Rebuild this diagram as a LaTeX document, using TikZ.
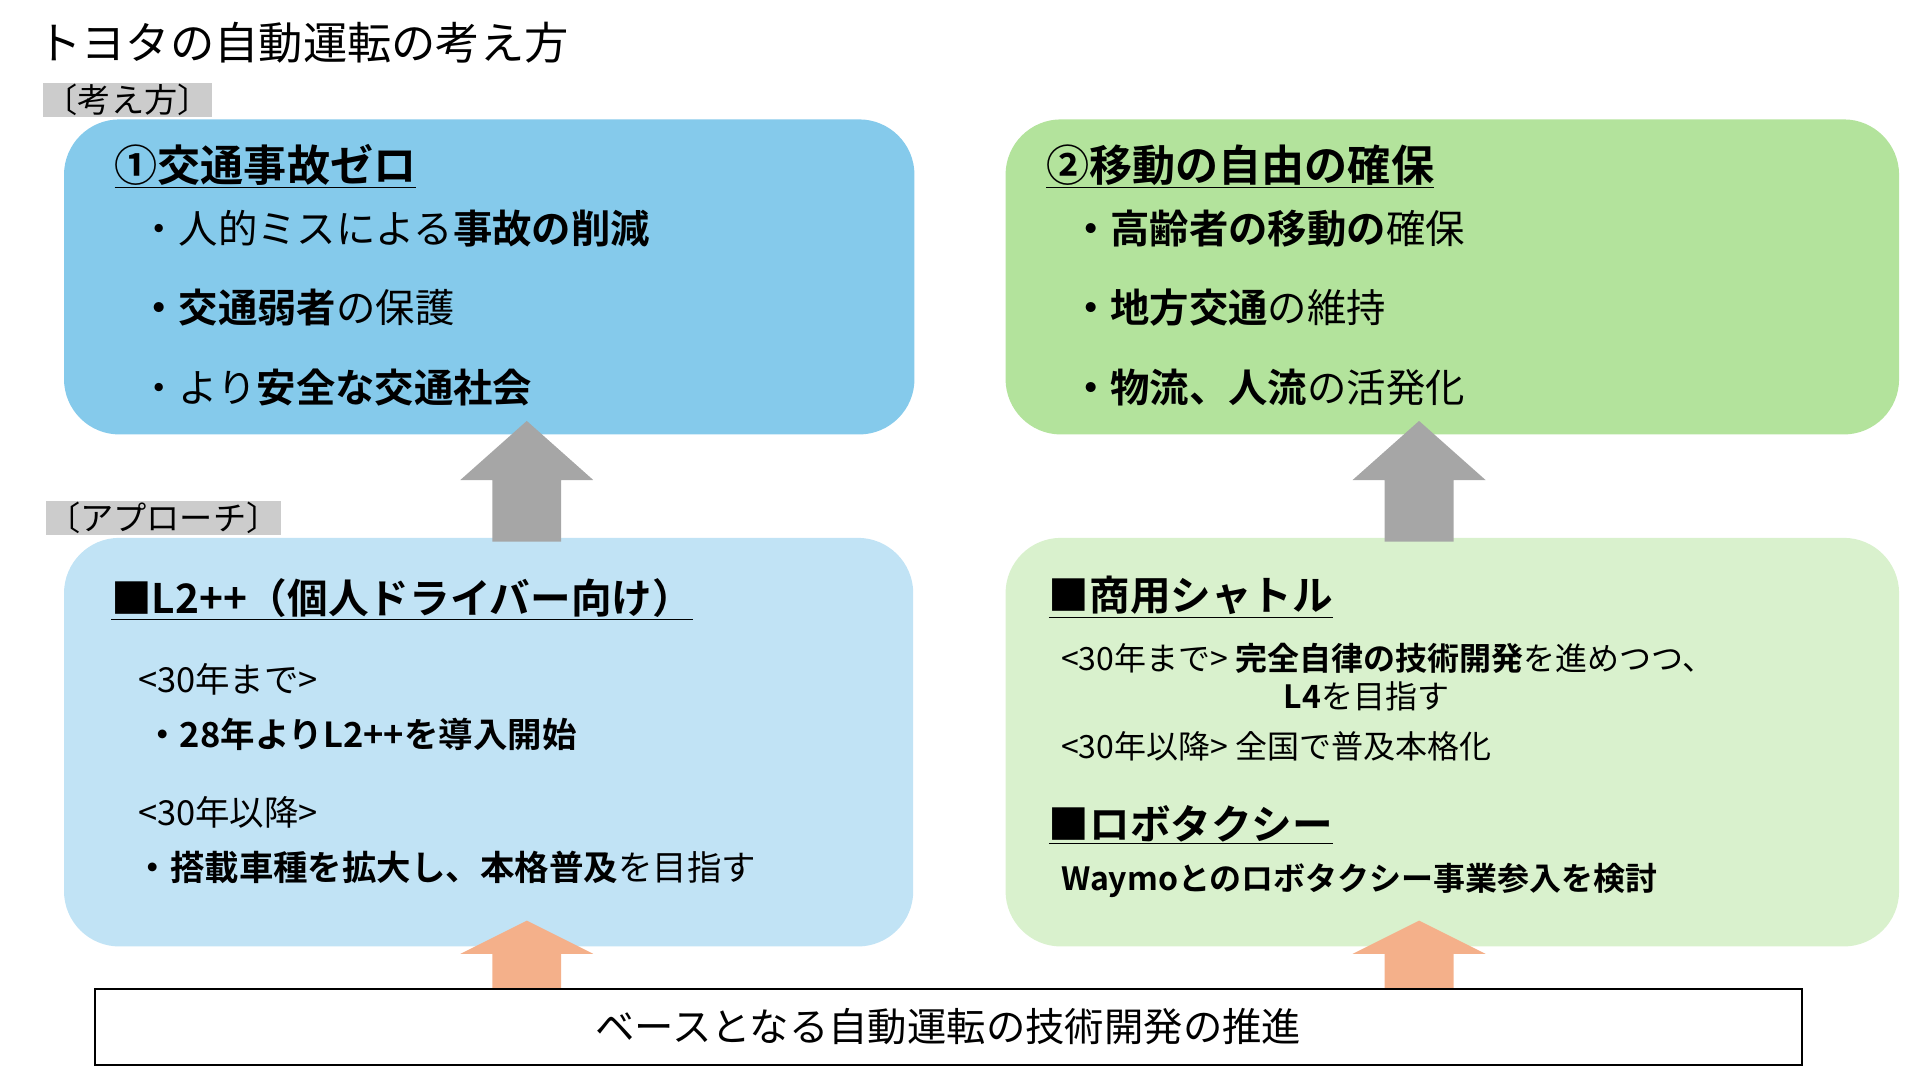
\documentclass[tikz,border=0pt]{standalone}
\usepackage{fontspec}
\setmainfont{Noto Sans CJK JP}[BoldFont={Noto Sans CJK JP Bold}]
\begin{document}
\begin{tikzpicture}[x=1pt,y=-1pt,
  box/.style={rounded corners=45pt},
  txt/.style={anchor=west,inner sep=0pt,font=\fontsize{32}{34}\selectfont},
  small/.style={anchor=west,inner sep=0pt,font=\fontsize{26}{28}\selectfont},
  head/.style={anchor=west,inner sep=0pt,font=\fontsize{35}{38}\selectfont\bfseries},
  lab/.style={anchor=west,inner sep=1pt,fill=gray!40,font=\fontsize{27}{29}\selectfont}]
\definecolor{cb1}{HTML}{85CAEB}
\definecolor{cg1}{HTML}{B3E39C}
\definecolor{cb2}{HTML}{C1E3F5}
\definecolor{cg2}{HTML}{D9F1CD}
\definecolor{ar}{HTML}{A6A6A6}
\definecolor{or}{HTML}{F4B08A}
\useasboundingbox (0,0) rectangle (1560,878);
\node[anchor=west,inner sep=0pt,font=\fontsize{36}{38}\selectfont] (title) at (30,35) {トヨタの自動運転の考え方};
\node[lab] (l1) at (35,81) {〔考え方〕};
% boxes
\fill[cb1,box] (52,97) rectangle (743,353);
\fill[cg1,box] (817,97) rectangle (1543,353);
\fill[cb2,box] (52,437) rectangle (742,769);
\fill[cg2,box] (817,437) rectangle (1543,769);
\node[lab] (l2) at (37,421) {〔アプローチ〕};
% arrows
\foreach \cx/\c/\top/\base/\bot in {428/ar/342/390/440,1153/ar/342/390/440,428/or/748/775/803,1153/or/748/775/803}{
  \fill[\c] (\cx-28,\bot) -- (\cx-28,\base) -- (\cx-54,\base) -- (\cx,\top) -- (\cx+54,\base) -- (\cx+28,\base) -- (\cx+28,\bot) -- cycle;}
% bottom
\node[draw=black,line width=2pt,fill=white,minimum width=1387pt,minimum height=62pt,inner sep=0pt,font=\fontsize{32}{34}\selectfont] (base) at (770.5,834.5) {ベースとなる自動運転の技術開発の推進};
% box1
\node[head] (h1) at (93,135) {\underline{①交通事故ゼロ}};
\node[txt] (a1) at (113,186) {・人的ミスによる\textbf{事故の削減}};
\node[txt] (a2) at (113,250) {\textbf{・交通弱者}の保護};
\node[txt] (a3) at (113,315) {・より\textbf{安全な交通社会}};
% box2
\node[head] (h2) at (850,135) {\underline{②移動の自由の確保}};
\node[txt] (b1) at (870,186) {\textbf{・高齢者の移動の}確保};
\node[txt] (b2) at (870,250) {\textbf{・地方交通}の維持};
\node[txt] (b3) at (870,315) {\textbf{・物流、人流}の活発化};
% box3
\node[head,font=\fontsize{33}{36}\selectfont\bfseries] (h3) at (90,487) {\underline{■L2++（個人ドライバー向け）}};
\node[small,font=\fontsize{28}{30}\selectfont] (c1) at (112,552) {<30年まで>};
\node[txt,font=\fontsize{28}{30}\selectfont\bfseries] (c2) at (118,597) {・28年よりL2++を導入開始};
\node[small,font=\fontsize{28}{30}\selectfont] (c3) at (112,660) {<30年以降>};
\node[txt,font=\fontsize{28}{30}\selectfont] (c4) at (110,705) {\textbf{・搭載車種を拡大し、本格普及}を目指す};
% box4
\node[head,font=\fontsize{33}{36}\selectfont\bfseries] (h4) at (852,485) {\underline{■商用シャトル}};
\node[small] (d1) at (862,535) {<30年まで>\ \textbf{完全自律の技術開発}を進めつつ、};
\node[small] (d2) at (1043,566) {\textbf{L4}を目指す};
\node[small] (d3) at (862,606) {<30年以降>\ 全国で普及本格化};
\node[head,font=\fontsize{33}{36}\selectfont\bfseries] (h5) at (852,670) {\underline{■ロボタクシー}};
\node[small,font=\fontsize{26}{28}\selectfont\bfseries] (d4) at (862,715) {Waymoとのロボタクシー事業参入を検討};
\end{tikzpicture}
\end{document}
